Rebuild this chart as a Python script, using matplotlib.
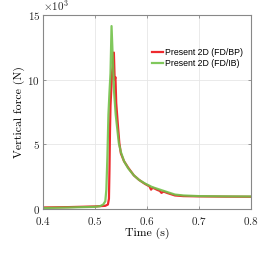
import matplotlib
matplotlib.use("Agg")
import matplotlib.pyplot as plt
from matplotlib.ticker import ScalarFormatter

plt.rcParams['font.family'] = 'serif'
plt.rcParams['font.serif'] = ['cmr10']
plt.rcParams['mathtext.fontset'] = 'cm'
plt.rcParams['axes.formatter.use_mathtext'] = True

# Present 2D (FD/BP)
t_bp = [0.40, 0.45, 0.50, 0.52, 0.525, 0.527, 0.528, 0.529, 0.530, 0.533, 0.5365,
        0.538, 0.5395, 0.541, 0.544, 0.547, 0.550, 0.556, 0.564, 0.575, 0.585,
        0.596, 0.605, 0.608, 0.611, 0.615, 0.620, 0.625, 0.628, 0.632, 0.640,
        0.654, 0.670, 0.700, 0.750, 0.800]
f_bp = [120, 150, 200, 250, 350, 800, 3000, 6000, 8000, 10500, 12100,
        10000, 10200, 8200, 6600, 5100, 4300, 3700, 3200, 2600, 2250,
        1950, 1750, 1500, 1650, 1580, 1480, 1400, 1250, 1350, 1230,
        1050, 1000, 980, 960, 950]

# Present 2D (FD/IB)
t_ib = [0.40, 0.45, 0.50, 0.51, 0.516, 0.520, 0.522, 0.524, 0.526, 0.528, 0.530,
        0.532, 0.535, 0.537, 0.540, 0.543, 0.546, 0.550, 0.556, 0.564, 0.575,
        0.585, 0.596, 0.610, 0.625, 0.640, 0.654, 0.670, 0.700, 0.750, 0.800]
f_ib = [80, 120, 170, 220, 350, 600, 1500, 4000, 7300, 9000, 10500,
        14150, 11000, 9000, 7300, 6200, 5100, 4400, 3700, 3150, 2600,
        2250, 1980, 1700, 1500, 1300, 1120, 1050, 1000, 980, 970]

fig = plt.figure(figsize=(2.6, 2.6), dpi=100)
ax = fig.add_axes([0.165, 0.196, 0.8, 0.746])

ax.plot(t_bp, f_bp, color='#ee2a2e', lw=1.6, label='Present 2D (FD/BP)')
ax.plot(t_ib, f_ib, color='#72c24a', lw=1.6, alpha=0.9, label='Present 2D (FD/IB)')

ax.set_xlim(0.4, 0.8)
ax.set_ylim(0, 15000)
ax.set_xticks([0.4, 0.5, 0.6, 0.7, 0.8])
ax.set_yticks([0, 5000, 10000, 15000])
fmt = ScalarFormatter(useMathText=True)
fmt.set_powerlimits((3, 3))
ax.yaxis.set_major_formatter(fmt)
ax.yaxis.get_offset_text().set_fontsize(8)
ax.yaxis.get_offset_text().set_color('#333333')

ax.grid(True, color='#e6e6e6', lw=0.6)
ax.set_axisbelow(True)
for s in ax.spines.values():
    s.set_color('#888888')
    s.set_linewidth(0.8)
ax.tick_params(direction='in', length=2.5, width=0.6, color='#888888',
               labelsize=8, labelcolor='#262626', pad=2, top=True, right=True)
ax.tick_params(axis='x', pad=4)

ax.set_xlabel('Time (s)', fontsize=8.5, labelpad=1)
ax.set_ylabel('Vertical force (N)', fontsize=8.5, labelpad=2)

ax.legend(loc='upper right', bbox_to_anchor=(0.99, 0.86), frameon=False,
          prop={'family': 'Liberation Sans', 'size': 6.3},
          handlelength=1.3, handletextpad=0.2, labelspacing=0.15, borderpad=0.2)

fig.savefig('out.png', dpi=100)
